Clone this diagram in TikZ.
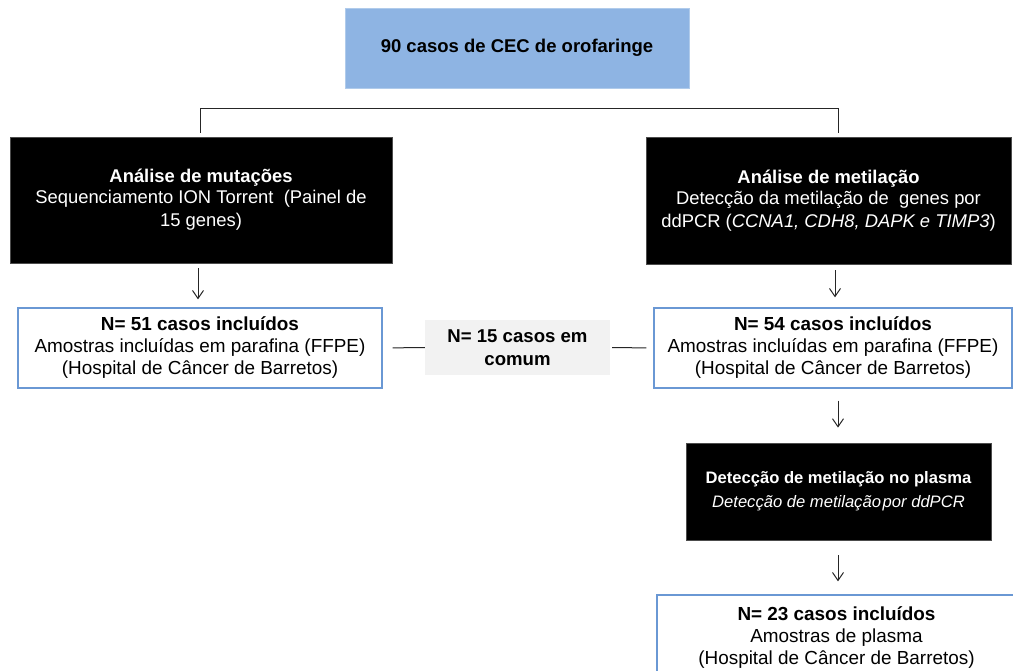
\documentclass[tikz,border=0pt]{standalone}
\usepackage{fontspec}
\setmainfont{Liberation Sans}
\usetikzlibrary{arrows.meta}
\definecolor{topblue}{HTML}{8EB4E3}
\definecolor{edgeblue}{HTML}{6A98D4}
\definecolor{greyfill}{HTML}{F2F2F2}
\tikzset{
  titlebox/.style={fill=topblue, draw=topblue!70!white, line width=0.8pt, inner sep=0pt, align=center, font=\fontsize{18.5}{22}\selectfont\bfseries},
  blackbox/.style={fill=black, draw=black!70, line width=0.8pt, text=white, inner sep=0pt, align=center, font=\fontsize{18.4}{23}\selectfont},
  plasmabox/.style={fill=black, draw=black!70, line width=0.8pt, text=white, inner sep=0pt, align=center, font=\fontsize{16.6}{24}\selectfont},
  casebox/.style={fill=white, draw=edgeblue, line width=1.3pt, inner sep=0pt, align=center, font=\fontsize{18.9}{22}\selectfont},
  commonbox/.style={fill=greyfill, draw=none, inner sep=0pt, align=center, font=\fontsize{18.6}{23}\selectfont\bfseries},
  conn/.style={draw=black!85, line width=1pt},
  arr/.style={conn, -{Straight Barb[length=8pt,width=11pt,line width=1pt]}},
}
\begin{document}
\begin{tikzpicture}[x=1pt,y=-1pt]
\clip (0,0) rectangle (1013,671);
\fill[white] (0,0) rectangle (1013,671);

\node[titlebox, minimum width=344pt, minimum height=80pt] (top) at (517,48) {90 casos de CEC de orofaringe};

\node[blackbox, minimum width=382pt, minimum height=126pt] (lblack) at (201,200)
  {\raisebox{-2pt}{\textbf{Análise de mutações}}\\Sequenciamento ION Torrent\ \ (Painel de\\15 genes)};
\node[blackbox, minimum width=365pt, minimum height=127pt] (rblack) at (828.5,200.5)
  {\raisebox{-2pt}{\textbf{Análise de metilação}}\\Detecção da metilação de\ \ genes por\\ddPCR (\textit{CCNA1, CDH8, DAPK e TIMP3})};

\coordinate (lt) at (200,133);
\coordinate (rt) at (838,133);
\draw[conn] (lt) -- (200,109) -- (838,109) -- (rt);

\node[casebox, minimum width=364pt, minimum height=80pt] (n51) at (200,348)
  {\textbf{N= 51 casos incluídos}\\Amostras incluídas em parafina (FFPE)\\(Hospital de Câncer de Barretos)};
\node[commonbox, minimum width=185pt, minimum height=55pt] (common) at (517.5,347.5)
  {N= 15 casos em\\comum};
\node[casebox, minimum width=358pt, minimum height=80pt] (n54) at (833,348)
  {\textbf{N= 54 casos incluídos}\\Amostras incluídas em parafina (FFPE)\\(Hospital de Câncer de Barretos)};

\node[plasmabox, minimum width=305pt, minimum height=97pt] (plasma) at (838.5,491.5)
  {\textbf{Detecção de metilação no plasma}\\\textit{Detecção de metilação\hspace{0.1em}por ddPCR}};

\node[casebox, minimum width=359pt, minimum height=86pt] (n23) at (836.5,638)
  {\textbf{N= 23 casos incluídos}\\Amostras de plasma\\(Hospital de Câncer de Barretos)};

\draw[arr, shorten <=5pt, shorten >=8pt] (lblack.south -| 198,0) -- (n51.north -| 198,0);
\draw[arr, shorten <=6pt, shorten >=10pt] (rblack.south -| 835,0) -- (n54.north -| 835,0);
\draw[arr, shorten <=12pt, shorten >=15pt] (n54.south -| 838,0) -- (plasma.north -| 838,0);
\draw[arr, shorten <=15pt, shorten >=13pt] (plasma.south -| 838,0) -- (n23.north -| 838,0);

\draw[conn, shorten <=10pt] (n51.east) -- (common.west);
\draw[conn, shorten <=2pt, shorten >=7pt] (common.east) -- (n54.west);
\end{tikzpicture}
\end{document}
